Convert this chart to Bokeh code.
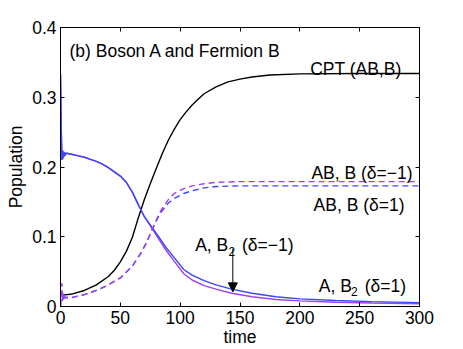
import math
from bokeh.plotting import figure
from bokeh.models import (Range1d, FixedTicker, NumeralTickFormatter, LinearAxis, Label,
                          Arrow, NormalHead, CustomJSTickFormatter)
from bokeh.embed import file_html
from bokeh.resources import INLINE

# ---------------- data ----------------
x_ticks = [0, 50, 100, 150, 200, 250, 300]
y_ticks = [0, 0.1, 0.2, 0.3, 0.4]

t_cpt = [0, 10, 20, 30, 40, 45, 50, 55, 60, 65, 70, 75, 80, 85, 90, 95, 100, 105, 110,
         115, 120, 130, 140, 150, 160, 175, 200, 250, 300]
cpt = [0.016, 0.018, 0.023, 0.031, 0.043, 0.052, 0.064, 0.079, 0.099, 0.127, 0.153, 0.176,
       0.198, 0.219, 0.238, 0.254, 0.268, 0.279, 0.289, 0.297, 0.305, 0.315, 0.322, 0.326,
       0.329, 0.332, 0.3335, 0.334, 0.334]

t_ab2_d1 = [0, 0.3, 0.7, 1.2, 1.6, 2, 2.5, 3, 3.5, 4, 5, 7, 10, 15, 20, 25, 30, 35, 40, 45,
            50, 55, 60, 65, 70, 75, 82, 88, 95, 103, 110, 120, 130, 143, 160, 180, 200, 230,
            260, 300]
ab2_d1 = [0.334, 0.3, 0.25, 0.21, 0.224, 0.212, 0.222, 0.215, 0.221, 0.217, 0.22, 0.219,
          0.218, 0.216, 0.214, 0.211, 0.208, 0.204, 0.199, 0.193, 0.187, 0.178, 0.164,
          0.146, 0.129, 0.117, 0.1, 0.085, 0.07, 0.053, 0.045, 0.037, 0.031, 0.025, 0.019,
          0.014, 0.011, 0.0085, 0.007, 0.0055]

t_ab2_dm1 = [0, 0.3, 0.7, 1.2, 1.6, 2, 2.5, 3, 3.5, 4, 5, 7, 10, 15, 20, 25, 30, 35, 40, 45,
             50, 55, 60, 65, 70, 75, 82, 88, 95, 103, 110, 120, 130, 143, 160, 180, 200, 230,
             260, 300]
ab2_dm1 = [0.334, 0.3, 0.25, 0.21, 0.224, 0.212, 0.222, 0.215, 0.221, 0.217, 0.22, 0.219,
           0.218, 0.216, 0.214, 0.211, 0.208, 0.204, 0.199, 0.193, 0.187, 0.178, 0.164,
           0.146, 0.129, 0.116, 0.097, 0.081, 0.065, 0.047, 0.038, 0.03, 0.025, 0.019, 0.014,
           0.01, 0.008, 0.006, 0.005, 0.004]

t_abb_d1 = [0, 0.5, 1, 1.5, 2, 2.5, 3, 4, 5, 10, 20, 30, 40, 50, 60, 67, 72, 77, 83, 90, 95,
            103, 110, 120, 130, 150, 200, 300]
abb_d1 = [0.0, 0.015, 0.033, 0.008, 0.02, 0.01, 0.016, 0.012, 0.013, 0.013, 0.017, 0.023,
          0.031, 0.041, 0.058, 0.076, 0.092, 0.112, 0.133, 0.148, 0.155, 0.162, 0.166, 0.17,
          0.172, 0.173, 0.173, 0.173]

t_abb_dm1 = [0, 0.5, 1, 1.5, 2, 2.5, 3, 4, 5, 10, 20, 30, 40, 50, 60, 67, 72, 77, 83, 90, 95,
             103, 110, 120, 130, 150, 200, 300]
abb_dm1 = [0.0, 0.015, 0.033, 0.008, 0.02, 0.01, 0.016, 0.012, 0.013, 0.013, 0.017, 0.023,
           0.031, 0.041, 0.058, 0.076, 0.092, 0.112, 0.135, 0.153, 0.162, 0.169, 0.173, 0.176,
           0.178, 0.179, 0.179, 0.179]

# ---------------- styling ----------------
FONT = "Liberation Sans"
FS = "17.5px"
BLUE = "#3a48f6"
PURPLE = "#a040f2"

p = figure(width=463, height=349, output_backend="svg", toolbar_location=None,
           x_range=Range1d(0, 300), y_range=Range1d(0, 0.4),
           min_border_left=60, min_border_right=44, min_border_top=27, min_border_bottom=43)
p.grid.visible = False
p.outline_line_color = "black"
p.outline_line_alpha = 1
p.outline_line_width = 1
p.background_fill_color = "white"
p.border_fill_color = "white"

for ax, ticks in ((p.xaxis[0], x_ticks), (p.yaxis[0], y_ticks)):
    ax.ticker = FixedTicker(ticks=ticks)
    ax.formatter = NumeralTickFormatter(format="0.[0]")
    ax.major_tick_in = 4
    ax.major_tick_out = 0
    ax.minor_tick_line_color = None
    ax.axis_line_color = "black"
    ax.major_tick_line_color = "black"
    ax.major_label_text_font = FONT
    ax.major_label_text_font_size = FS
    ax.major_label_text_color = "black"
    ax.major_label_standoff = 4
    ax.axis_label_text_font = FONT
    ax.axis_label_text_font_size = FS
    ax.axis_label_text_font_style = "normal"
    ax.axis_label_text_color = "black"

p.xaxis[0].axis_label = "time"
p.xaxis[0].axis_label_standoff = 0
p.yaxis[0].axis_label = "Population"
p.yaxis[0].axis_label_standoff = 3

for side, ticks in (("above", x_ticks), ("right", y_ticks)):
    ax = LinearAxis(ticker=FixedTicker(ticks=ticks),
                    formatter=CustomJSTickFormatter(code="return ''"),
                    major_label_text_font_size="1px", major_label_standoff=0,
                    major_tick_in=4, major_tick_out=0, minor_tick_line_color=None,
                    axis_line_color="black", major_tick_line_color="black")
    p.add_layout(ax, side)

LW = 1.4
p.line(t_cpt, cpt, line_color="black", line_width=LW)
p.line(t_ab2_dm1, ab2_dm1, line_color=PURPLE, line_width=LW)
p.line(t_ab2_d1, ab2_d1, line_color=BLUE, line_width=LW)
p.line(t_abb_d1, abb_d1, line_color=BLUE, line_width=LW, line_dash="6 4")
p.line(t_abb_dm1, abb_dm1, line_color=PURPLE, line_width=LW, line_dash="6 4")


def lab(x, y, text, align="left", size=FS, angle=0.0):
    p.add_layout(Label(x=x, y=y, text=text, text_font=FONT, text_font_size=size,
                       text_color="black", text_align=align, text_baseline="alphabetic",
                       angle=angle))


lab(7.5, 0.367, "(b) Boson A and Fermion B")
lab(285, 0.3412, "CPT (AB,B)", align="right")
lab(294.2, 0.1907, "AB, B (δ=−1)", align="right")
lab(287.5, 0.1462, "AB, B (δ=1)", align="right")

# A, B2 (δ=−1)
lab(112.5, 0.0875, "A, B")
lab(140.3, 0.0789, "2", size="12px")
lab(151.7, 0.0875, "(δ=−1)")
# A, B2 (δ=1)
lab(215.8, 0.0301, "A, B")
lab(242.8, 0.0215, "2", size="12px")
lab(254.2, 0.0301, "(δ=1)")

p.add_layout(Arrow(end=NormalHead(size=9, fill_color="black", line_color="black"),
                   x_start=144, y_start=0.083, x_end=144, y_end=0.021,
                   line_color="black", line_width=1))

open("out.html", "w").write(file_html(p, INLINE))
